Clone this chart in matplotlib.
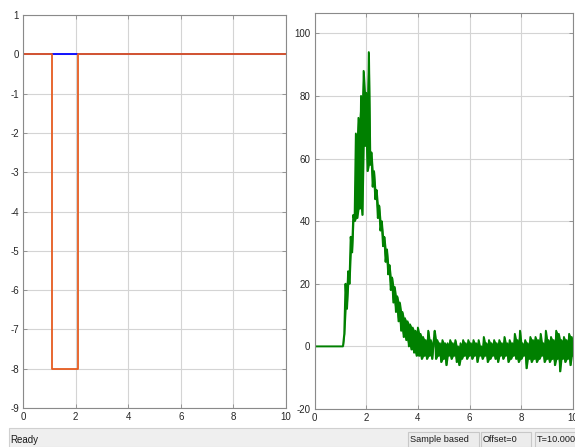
import numpy as np
import matplotlib.pyplot as plt
from matplotlib.patches import Rectangle

plt.rcParams['font.family'] = ['Liberation Sans', 'DejaVu Sans']
plt.rcParams['axes.unicode_minus'] = False

# left scope: input signals
in_t = [0, 1.1, 1.1, 2.1, 2.1, 10]
in_v = [0, 0, -8, -8, 0, 0]
ref_t = [0, 10]
ref_v = [0, 0]

# right scope: measured response (sampled every 0.05 s after 1.1 s)
flat_t = [0, 1.1]
flat_v = [0, 0]
resp_v = [
    0, 4, 20, 12, 24, 20, 35, 30, 42, 40,
    68, 41, 73, 44, 80, 42, 88, 64, 81, 56,
    94, 58, 62, 51, 56, 47, 50, 41, 45, 37,
    40, 32, 35, 27, 31, 23, 26, 18, 22, 14,
    19, 11, 16, 8, 14, 5, 11, 3, 9, 2,
    8, 0, 7, -1, 6, -2, 5, -3, 6, -3,
    4, -4, 3, -3, 2, -4, 5, -3, 2, -4,
    1, 5, -4, 2, -3, 1, -5, 2, -4, 1,
    -6, 1, -3, 2, -4, 1, -3, 2, -5, 0,
    -6, 1, -4, 2, -3, 1, -4, 2, -3, 1,
    -4, 2, -3, 1, -5, 2, -3, 0, -4, 3,
    -3, 1, -5, 2, -4, 1, -3, 2, -4, 1,
    -5, 2, -3, 1, -4, 3, -3, 1, -5, 2,
    -4, 1, -3, 4, -4, 2, -5, 5, -4, 1,
    -3, 2, -7, 1, -4, 3, -5, 2, -4, 3,
    -5, 2, -4, 4, -3, 1, -5, 5, -4, 2,
    -5, 3, -4, 2, -6, 5, -4, 4, -8, 2,
    -4, 3, -5, 2, -4, 4, -6, 3, -3,
]
resp_t = np.linspace(1.1, 10.0, len(resp_v))

W, H = 575, 447
fig = plt.figure(figsize=(W / 100, H / 100), dpi=100)


def box(x0, x1, y_top, y_bot):
    return [x0 / W, 1 - y_bot / H, (x1 - x0) / W, (y_bot - y_top) / H]


def style(ax):
    ax.grid(True, color='#d4d4d4', lw=0.8)
    ax.set_axisbelow(True)
    for s in ax.spines.values():
        s.set_color('#8a8a8a')
        s.set_linewidth(0.8)
    ax.tick_params(direction='in', length=3, width=0.6, color='#8a8a8a',
                   labelsize=7, labelcolor='#262626', pad=3,
                   top=True, right=True)


ax1 = fig.add_axes(box(23, 286, 15, 408))
ax1.plot(ref_t, ref_v, color='#0000ff', lw=1.3)
ax1.plot(in_t, in_v, color='#e65c20', lw=1.3)
ax1.set_xlim(0, 10)
ax1.set_ylim(-9, 1)
ax1.set_xticks(range(0, 11, 2))
ax1.set_yticks(range(-9, 2))
style(ax1)

ax2 = fig.add_axes(box(314.5, 573, 13, 409))
# band between neighbouring samples so the noisy trace reads as a solid band
v = np.array(resp_v, dtype=float)
mid_t = (resp_t[:-1] + resp_t[1:]) / 2
ax2.fill_between(mid_t, np.minimum(v[:-1], v[1:]), np.maximum(v[:-1], v[1:]),
                 color='#008000', lw=0)
ax2.plot(flat_t + list(resp_t), flat_v + resp_v, color='#008000', lw=1.4)
ax2.set_xlim(0, 10)
ax2.set_ylim(-20, 106.5)
ax2.set_xticks(range(0, 11, 2))
ax2.set_yticks(range(-20, 101, 20))
style(ax2)

# status bar
fig.patches.append(Rectangle((9 / W, 0), 1, 19.5 / H, transform=fig.transFigure,
                             facecolor='#efefef', edgecolor='#d0d0d0', lw=0.8))
fig.text(10 / W, 1 - 440 / H, 'Ready', fontsize=7, va='center', color='#1a1a1a')
for x0, x1, label in [(408, 479, 'Sample based'), (481, 531, 'Offset=0'),
                      (535, 600, 'T=10.000')]:
    fig.patches.append(Rectangle((x0 / W, 0), (x1 - x0) / W, 15.5 / H,
                                 transform=fig.transFigure,
                                 facecolor='#ececec', edgecolor='#c8c8c8', lw=0.8))
    fig.text((x0 + 2) / W, 1 - 439.5 / H, label, fontsize=6.6, va='center',
             color='#1a1a1a')

fig.savefig('out.png', dpi=100)
